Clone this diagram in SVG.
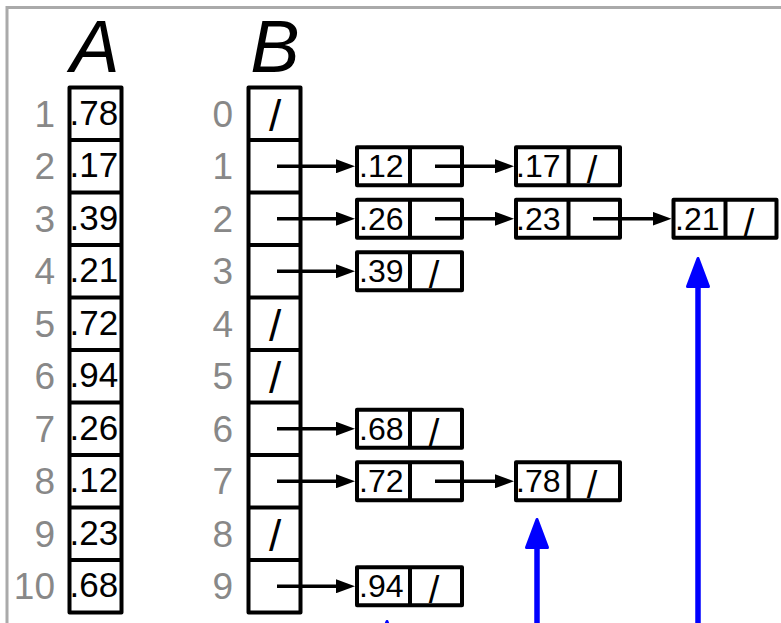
<svg xmlns="http://www.w3.org/2000/svg" width="781" height="623" viewBox="0 0 781 623">
<defs>
<style>
.box{fill:#fff;stroke:#000;stroke-width:4;stroke-linejoin:round}
.dv{stroke:#000;stroke-width:4}
.val{font-family:"Liberation Sans",Arial,sans-serif;font-size:35px;fill:#000}
.nv{font-family:"Liberation Sans",Arial,sans-serif;font-size:32px;fill:#000}
.idx{font-family:"Liberation Sans",Arial,sans-serif;font-size:37px;fill:#888;text-anchor:end}
.nil{font-family:"Liberation Sans",Arial,sans-serif;font-size:44px;fill:#000;text-anchor:middle}
.niln{font-family:"Liberation Sans",Arial,sans-serif;font-size:38px;fill:#000;text-anchor:middle}
.title{font-family:"Liberation Sans",Arial,sans-serif;font-style:italic;font-size:74px;fill:#000;text-anchor:middle}
.ptr{stroke:#000;stroke-width:3.5;fill:none;marker-end:url(#ah)}
.blue{stroke:#00f;stroke-width:5.5;fill:none;marker-end:url(#bh)}
</style>
<marker id="ah" viewBox="0 0 19 14" refX="9" refY="7" markerWidth="19" markerHeight="14" markerUnits="userSpaceOnUse" orient="auto"><path d="M0,0 L19,7 L0,14 z" fill="#000"/></marker>
<marker id="bh" viewBox="-2 -14 34 28" refX="17.5" refY="0" markerWidth="34" markerHeight="28" markerUnits="userSpaceOnUse" orient="auto"><path d="M0,-10.5 L28,0 L0,10.5 z" fill="#00f" stroke="#00f" stroke-width="3" stroke-linejoin="round"/></marker>
</defs>
<rect x="0" y="0" width="781" height="623" fill="#fff"/>
<rect x="7" y="7.5" width="800" height="700" fill="none" stroke="#aaa" stroke-width="3"/>

<g id="arrayA">
<text class="title" x="95" y="71.5">A</text>
<rect class="box" x="69.5" y="87.5" width="52" height="525"/>
<path class="dv" d="M69.5,140H121.5M69.5,192.5H121.5M69.5,245H121.5M69.5,297.5H121.5M69.5,350H121.5M69.5,402.5H121.5M69.5,455H121.5M69.5,507.5H121.5M69.5,560H121.5"/>
<text class="idx" x="55" y="126.75">1</text>
<text class="idx" x="55" y="179.25">2</text>
<text class="idx" x="55" y="231.75">3</text>
<text class="idx" x="55" y="284.25">4</text>
<text class="idx" x="55" y="336.75">5</text>
<text class="idx" x="55" y="389.25">6</text>
<text class="idx" x="55" y="441.75">7</text>
<text class="idx" x="55" y="494.25">8</text>
<text class="idx" x="55" y="546.75">9</text>
<text class="idx" x="55" y="599.25">10</text>
<text class="val" x="69.5" y="124.75">.78</text>
<text class="val" x="69.5" y="177.25">.17</text>
<text class="val" x="69.5" y="229.75">.39</text>
<text class="val" x="69.5" y="282.25">.21</text>
<text class="val" x="69.5" y="334.75">.72</text>
<text class="val" x="69.5" y="387.25">.94</text>
<text class="val" x="69.5" y="439.75">.26</text>
<text class="val" x="69.5" y="492.25">.12</text>
<text class="val" x="69.5" y="544.75">.23</text>
<text class="val" x="69.5" y="597.25">.68</text>
</g>

<g id="arrayB">
<text class="title" x="275" y="71.5">B</text>
<rect class="box" x="248.5" y="87.5" width="52" height="525"/>
<path class="dv" d="M248.5,140H300.5M248.5,192.5H300.5M248.5,245H300.5M248.5,297.5H300.5M248.5,350H300.5M248.5,402.5H300.5M248.5,455H300.5M248.5,507.5H300.5M248.5,560H300.5"/>
<text class="idx" x="233" y="126.75">0</text>
<text class="idx" x="233" y="179.25">1</text>
<text class="idx" x="233" y="231.75">2</text>
<text class="idx" x="233" y="284.25">3</text>
<text class="idx" x="233" y="336.75">4</text>
<text class="idx" x="233" y="389.25">5</text>
<text class="idx" x="233" y="441.75">6</text>
<text class="idx" x="233" y="494.25">7</text>
<text class="idx" x="233" y="546.75">8</text>
<text class="idx" x="233" y="599.25">9</text>
<text class="nil" x="275" y="130.75">/</text>
<text class="nil" x="275" y="340.75">/</text>
<text class="nil" x="275" y="393.25">/</text>
<text class="nil" x="275" y="550.75">/</text>
</g>

<g id="n12">
<rect class="box" x="357" y="147.25" width="105" height="38"/>
<line class="dv" x1="410" y1="147.25" x2="410" y2="185.25"/>
<text class="nv" x="359" y="177.25">.12</text>
</g>
<g id="n17">
<rect class="box" x="516" y="147.25" width="104" height="38"/>
<line class="dv" x1="568.5" y1="147.25" x2="568.5" y2="185.25"/>
<text class="nv" x="516" y="177.25">.17</text>
<text class="niln" x="592" y="183.25">/</text>
</g>
<g id="n26">
<rect class="box" x="357" y="199.75" width="105" height="38"/>
<line class="dv" x1="410" y1="199.75" x2="410" y2="237.75"/>
<text class="nv" x="359" y="229.75">.26</text>
</g>
<g id="n23">
<rect class="box" x="516" y="199.75" width="104" height="38"/>
<line class="dv" x1="568.5" y1="199.75" x2="568.5" y2="237.75"/>
<text class="nv" x="516" y="229.75">.23</text>
</g>
<g id="n21">
<rect class="box" x="673.5" y="199.75" width="103" height="38"/>
<line class="dv" x1="725.5" y1="199.75" x2="725.5" y2="237.75"/>
<text class="nv" x="675" y="229.75">.21</text>
<text class="niln" x="749" y="235.75">/</text>
</g>
<g id="n39">
<rect class="box" x="357" y="252.25" width="105" height="38"/>
<line class="dv" x1="410" y1="252.25" x2="410" y2="290.25"/>
<text class="nv" x="359" y="282.25">.39</text>
<text class="niln" x="434" y="288.25">/</text>
</g>
<g id="n68">
<rect class="box" x="357" y="409.75" width="105" height="38"/>
<line class="dv" x1="410" y1="409.75" x2="410" y2="447.75"/>
<text class="nv" x="359" y="439.75">.68</text>
<text class="niln" x="434" y="445.75">/</text>
</g>
<g id="n72">
<rect class="box" x="357" y="462.25" width="105" height="38"/>
<line class="dv" x1="410" y1="462.25" x2="410" y2="500.25"/>
<text class="nv" x="359" y="492.25">.72</text>
</g>
<g id="n78">
<rect class="box" x="516" y="462.25" width="104" height="38"/>
<line class="dv" x1="568.5" y1="462.25" x2="568.5" y2="500.25"/>
<text class="nv" x="516" y="492.25">.78</text>
<text class="niln" x="592" y="498.25">/</text>
</g>
<g id="n94">
<rect class="box" x="357" y="567.25" width="105" height="38"/>
<line class="dv" x1="410" y1="567.25" x2="410" y2="605.25"/>
<text class="nv" x="359" y="597.25">.94</text>
<text class="niln" x="434" y="603.25">/</text>
</g>

<g id="connectors">
<line class="ptr" x1="277" y1="166.25" x2="345" y2="166.25"/>
<line class="ptr" x1="277" y1="218.75" x2="345" y2="218.75"/>
<line class="ptr" x1="277" y1="271.25" x2="345" y2="271.25"/>
<line class="ptr" x1="277" y1="428.75" x2="345" y2="428.75"/>
<line class="ptr" x1="277" y1="481.25" x2="345" y2="481.25"/>
<line class="ptr" x1="277" y1="586.25" x2="345" y2="586.25"/>
<line class="ptr" x1="435" y1="166.25" x2="504" y2="166.25"/>
<line class="ptr" x1="435" y1="218.75" x2="504" y2="218.75"/>
<line class="ptr" x1="593" y1="218.75" x2="661.5" y2="218.75"/>
<line class="ptr" x1="435" y1="481.25" x2="504" y2="481.25"/>
<line class="blue" x1="698" y1="660" x2="698" y2="269"/>
<line class="blue" x1="537" y1="660" x2="537" y2="530"/>
<line class="blue" x1="387" y1="660" x2="387" y2="632"/>
</g>
</svg>
